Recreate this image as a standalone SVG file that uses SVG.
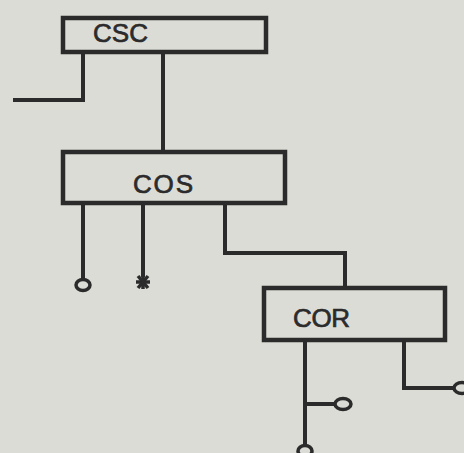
<svg xmlns="http://www.w3.org/2000/svg" width="464" height="453" viewBox="0 0 464 453">
  <style>
    .box { fill: none; stroke: #2b2b2b; stroke-width: 4.5; }
    .ln { fill: none; stroke: #2b2b2b; stroke-width: 4; stroke-linejoin: miter; }
    .term { fill: none; stroke: #2b2b2b; stroke-width: 3.5; }
    .lbl { font-family: "Liberation Sans", Arial, sans-serif; font-size: 26px; fill: #2b2b2b; stroke: #2b2b2b; stroke-width: 0.7; }
  </style>
  <rect x="0" y="0" width="464" height="453" fill="#dcdcd6"/>
  <g id="connectors">
    <polyline class="ln" points="83,52 83,100 13,100"/>
    <line class="ln" x1="163" y1="52" x2="163" y2="152"/>
    <line class="ln" x1="83" y1="203" x2="83" y2="279"/>
    <line class="ln" x1="143" y1="203" x2="143" y2="277"/>
    <polyline class="ln" points="225,203 225,253 345,253 345,288"/>
    <line class="ln" x1="305" y1="340" x2="305" y2="445"/>
    <line class="ln" x1="305" y1="404" x2="335" y2="404"/>
    <polyline class="ln" points="404,340 404,388 454,388"/>
    <ellipse class="term" cx="83" cy="285" rx="7" ry="5.5"/>
    <g stroke="#2b2b2b" stroke-width="3.5">
      <line x1="136" y1="282" x2="150" y2="282"/>
      <line x1="138" y1="276" x2="148" y2="288"/>
      <line x1="148" y1="276" x2="138" y2="288"/>
      <line x1="143" y1="275" x2="143" y2="289"/>
    </g>
    <ellipse class="term" cx="343" cy="404" rx="8" ry="5.5"/>
    <ellipse class="term" cx="462" cy="388" rx="8" ry="5.5"/>
    <ellipse class="term" cx="305" cy="451" rx="7" ry="5.5"/>
  </g>
  <g id="CSC">
    <rect class="box" x="63" y="18" width="203" height="34"/>
    <text class="lbl" x="93" y="42" textLength="55">CSC</text>
  </g>
  <g id="COS">
    <rect class="box" x="63" y="152" width="222" height="51"/>
    <text class="lbl" x="133" y="193" textLength="60">COS</text>
  </g>
  <g id="COR">
    <rect class="box" x="264" y="288" width="181" height="52"/>
    <text class="lbl" x="293" y="327" textLength="57">COR</text>
  </g>
</svg>
